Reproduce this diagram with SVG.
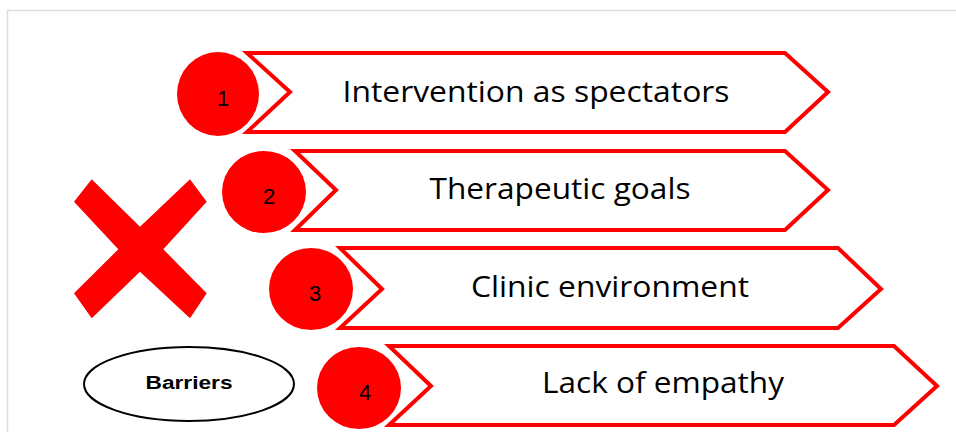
<svg xmlns="http://www.w3.org/2000/svg" width="956" height="432" viewBox="0 0 956 432">
<style>
.chev{fill:#fff;stroke:#f00;stroke-width:4;stroke-linejoin:miter}
.dot{fill:#f00}
.num{font-family:"Liberation Sans",Arial,sans-serif;font-size:22px;fill:#000;text-anchor:middle}
.lbl{font-family:"Open Sans","Liberation Sans",sans-serif;font-size:30px;fill:#000;text-anchor:middle}
</style>
<rect x="0" y="0" width="956" height="432" fill="#fff"/>
<path d="M7.5 432 V10.5 H956" fill="none" stroke="#dcdcdc" stroke-width="1.5"/>
<g id="x-mark">
<polygon fill="#f00" points="74,201.7 91.7,179.3 140,226.7 190,179.3 206.7,201.7 163.3,249.3 206.7,293.3 190,318.3 140,271.7 91.7,318.3 74,293.3 118.3,249.3"/>
</g>
<g id="barriers">
<ellipse cx="189" cy="384" rx="105" ry="37" fill="#fff" stroke="#000" stroke-width="2"/>
<text x="189" y="389" font-family="Liberation Sans,Arial,sans-serif" font-size="18" font-weight="bold" text-anchor="middle" textLength="87" lengthAdjust="spacingAndGlyphs">Barriers</text>
</g>
<g id="step1">
<polygon class="chev" points="247,53 785,53 828,92 785,132 247,132 290,92"/>
<ellipse class="dot" cx="218" cy="94" rx="41" ry="42"/>
<text class="num" x="223" y="106">1</text>
<text class="lbl" x="536" y="102" textLength="387" lengthAdjust="spacingAndGlyphs">Intervention as spectators</text>
</g>
<g id="step2">
<polygon class="chev" points="295,151 785,151 828,190 785,230 295,230 336,190"/>
<ellipse class="dot" cx="264" cy="192" rx="42" ry="41"/>
<text class="num" x="269" y="204">2</text>
<text class="lbl" x="560" y="199" textLength="261" lengthAdjust="spacingAndGlyphs">Therapeutic goals</text>
</g>
<g id="step3">
<polygon class="chev" points="340,248 838,248 881,289 838,328 340,328 382,289"/>
<ellipse class="dot" cx="311" cy="289" rx="42" ry="41"/>
<text class="num" x="315" y="301">3</text>
<text class="lbl" x="610" y="297" textLength="278" lengthAdjust="spacingAndGlyphs">Clinic environment</text>
</g>
<g id="step4">
<polygon class="chev" points="389,346 894,346 937,386 894,425 389,425 431,386"/>
<ellipse class="dot" cx="359" cy="388" rx="42" ry="41"/>
<text class="num" x="365" y="400">4</text>
<text class="lbl" x="663" y="393" textLength="242" lengthAdjust="spacingAndGlyphs">Lack of empathy</text>
</g>
<g id="connectors"></g>
</svg>
